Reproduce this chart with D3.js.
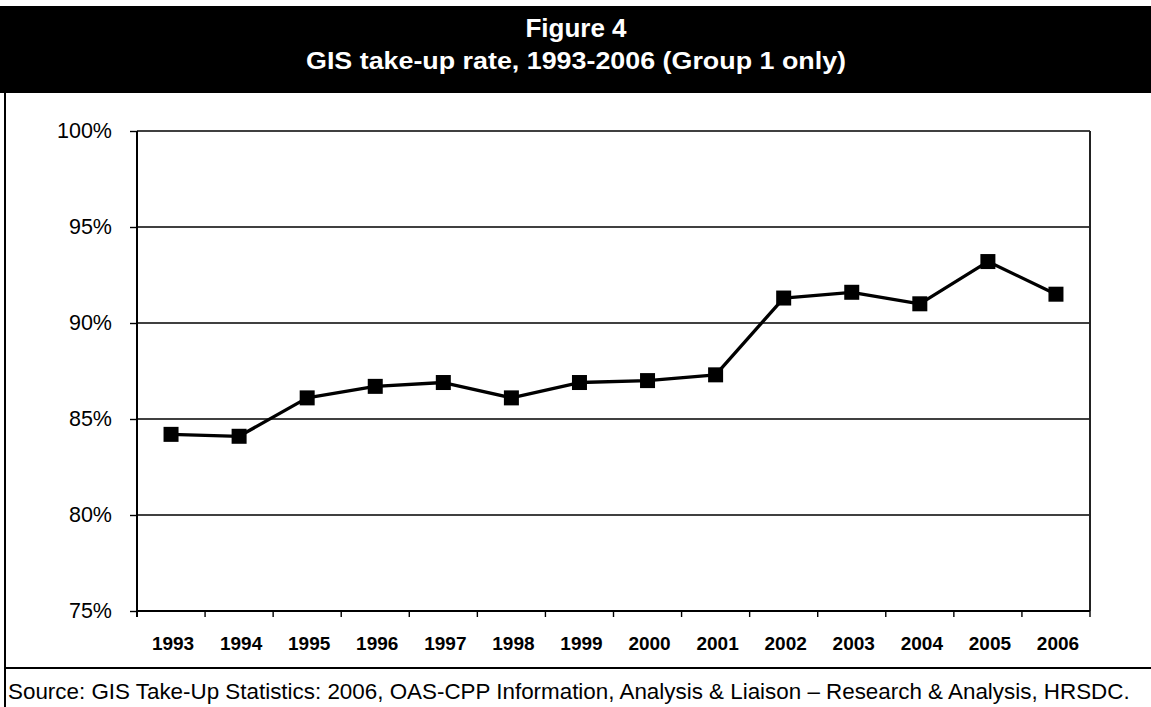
<!DOCTYPE html>
<html>
<head>
<meta charset="utf-8">
<script src="https://cdn.jsdelivr.net/npm/d3@7"></script>
<style>
  html, body { margin: 0; padding: 0; background: #fff; }
  svg { display: block; }
  text { font-family: "Liberation Sans", Arial, sans-serif; }
</style>
</head>
<body>
<svg id="chart" width="1151" height="707"></svg>
<script>
// GIS take-up rate by year (percent)
const years = ["1993","1994","1995","1996","1997","1998","1999","2000","2001","2002","2003","2004","2005","2006"];
const takeUpRate = [84.2, 84.1, 86.1, 86.7, 86.9, 86.1, 86.9, 87.0, 87.3, 91.3, 91.6, 91.0, 93.2, 91.5];
const yTicks = [75, 80, 85, 90, 95, 100];
const titleText = "Figure 4";
const subtitleText = "GIS take-up rate, 1993-2006 (Group 1 only)";
const sourceText = "Source: GIS Take-Up Statistics: 2006, OAS-CPP Information, Analysis & Liaison \u2013 Research & Analysis, HRSDC.";

const W = 1151, H = 707;
const plot = { left: 137, right: 1090, top: 131, bottom: 611 };

const svg = d3.select("#chart");

// Header band
svg.append("rect").attr("x", 0).attr("y", 6).attr("width", W).attr("height", 87).attr("fill", "#000");
svg.append("text").attr("x", 576).attr("y", 37).attr("text-anchor", "middle")
  .attr("fill", "#fff").attr("font-weight", "bold").attr("font-size", 26).text(titleText);
svg.append("text").attr("x", 576).attr("y", 69).attr("text-anchor", "middle")
  .attr("fill", "#fff").attr("font-weight", "bold").attr("font-size", 24)
  .attr("textLength", 540).attr("lengthAdjust", "spacingAndGlyphs").text(subtitleText);

// Frame: left edge and footer separator
svg.append("line").attr("x1", 5).attr("x2", 5).attr("y1", 93).attr("y2", H)
  .attr("stroke", "#000").attr("stroke-width", 2);
svg.append("line").attr("x1", 4).attr("x2", W).attr("y1", 668).attr("y2", 668)
  .attr("stroke", "#000").attr("stroke-width", 2);
svg.append("text").attr("x", 8).attr("y", 699).attr("fill", "#000")
  .attr("font-size", 22.4).text(sourceText);

// Scales
const x = d3.scaleBand().domain(years).range([plot.left, plot.right]).padding(0);
const y = d3.scaleLinear().domain([75, 100]).range([plot.bottom, plot.top]);

// Horizontal gridlines
svg.append("g").selectAll("line").data(yTicks.filter(d => d > 75)).join("line")
  .attr("x1", plot.left).attr("x2", plot.right)
  .attr("y1", d => y(d)).attr("y2", d => y(d))
  .attr("stroke", "#000").attr("stroke-width", 1.4);

// Right border of plot area
svg.append("line").attr("x1", plot.right).attr("x2", plot.right)
  .attr("y1", plot.top).attr("y2", plot.bottom)
  .attr("stroke", "#222").attr("stroke-width", 2);

// Y axis
const yAxis = svg.append("g").attr("transform", `translate(${plot.left},0)`)
  .call(d3.axisLeft(y).tickValues(yTicks).tickSize(7).tickPadding(18).tickFormat(d => d + "%"));
yAxis.select(".domain").attr("stroke", "#000").attr("stroke-width", 2)
  .attr("d", `M0,${plot.top}V${plot.bottom + 6}`);
yAxis.selectAll(".tick line").attr("stroke", "#000").attr("stroke-width", 1.4);
yAxis.selectAll(".tick text").attr("font-size", 21.5).attr("fill", "#000")
  .attr("font-family", "Liberation Sans, Arial, sans-serif");

// X axis: boundary ticks between categories, labels centred in bands
const xAxis = svg.append("g").attr("transform", `translate(0,${plot.bottom})`)
  .call(d3.axisBottom(x).tickSize(0).tickPadding(26));
xAxis.select(".domain").attr("stroke", "#000").attr("stroke-width", 2)
  .attr("d", `M${plot.left},0H${plot.right}`);
xAxis.selectAll(".tick text").attr("font-size", 19).attr("font-weight", "bold").attr("fill", "#000")
  .attr("font-family", "Liberation Sans, Arial, sans-serif").attr("dx", 2);
const bounds = years.map(d => x(d)).concat([x.range()[1]]);
xAxis.append("g").selectAll("line").data(bounds).join("line")
  .attr("x1", d => d).attr("x2", d => d).attr("y1", 0).attr("y2", 6)
  .attr("stroke", "#000").attr("stroke-width", 1.4);

// Series line and square markers
const pts = years.map((yr, i) => ({ yr, v: takeUpRate[i] }));
const line = d3.line().x(d => x(d.yr) + x.bandwidth() / 2).y(d => y(d.v));
svg.append("path").datum(pts).attr("d", line)
  .attr("fill", "none").attr("stroke", "#000").attr("stroke-width", 3.3).attr("stroke-linejoin", "round");
const m = 15;
svg.append("g").selectAll("rect").data(pts).join("rect")
  .attr("x", d => x(d.yr) + x.bandwidth() / 2 - m / 2)
  .attr("y", d => y(d.v) - m / 2)
  .attr("width", m).attr("height", m).attr("fill", "#000");
</script>
</body>
</html>
